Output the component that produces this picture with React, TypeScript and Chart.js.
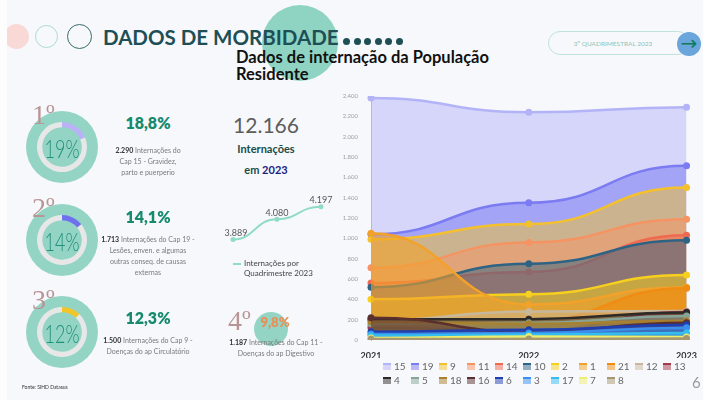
import React, { useEffect, useRef } from "react";
import { Chart, registerables } from "chart.js";
Chart.register(...registerables);

// ---------- DATA ----------
const years = ["2021", "2022", "2023"];
const capLabels = ["15", "19", "9", "11", "14", "10", "2", "1", "21", "12", "13", "4", "5", "18", "16", "6", "3", "17", "7", "8"];
const cap15 = [2380, 2240, 2290];
const cap19 = [1040, 1350, 1713];
const cap9 = [990, 1140, 1500];
const cap11 = [710, 960, 1187];
const cap14 = [560, 670, 1030];
const cap10 = [520, 750, 980];
const cap2 = [400, 450, 640];
const cap1 = [1050, 350, 520];
const cap21 = [140, 190, 510];
const cap12 = [190, 280, 285];
const cap13 = [120, 90, 275];
const cap4 = [205, 205, 270];
const cap5 = [160, 170, 235];
const cap18 = [180, 160, 190];
const cap16 = [220, 80, 170];
const cap6 = [80, 100, 150];
const cap3 = [60, 70, 120];
const cap17 = [45, 55, 70];
const cap7 = [20, 35, 30];
const cap8 = [10, 10, 15];
const seriesValues = [cap15, cap19, cap9, cap11, cap14, cap10, cap2, cap1, cap21, cap12, cap13, cap4, cap5, cap18, cap16, cap6, cap3, cap17, cap7, cap8];
const lineColors = ["#b3b3f7", "#7b7bf2", "#f4c12c", "#f59462", "#f06a50", "#2f6384", "#f7cf1e", "#f2a22a", "#f08c12", "#c9b79c", "#a33a4a", "#2e2a28", "#86a597", "#a8802e", "#5a302e", "#1f3fb0", "#3a8eee", "#33bdf0", "#eeee6e", "#a8976e"];
const fillAlphas = [0.5, 0.55, 0.5, 0.5, 0.5, 0.5, 0.55, 0.6, 0.65, 0.5, 0.5, 0.5, 0.5, 0.5, 0.5, 0.55, 0.55, 0.55, 0.5, 0.5];
const yMax = 2400;
const yStep = 200;

const quadLabels = ["1º Quad", "2º Quad", "3º Quad"];
const quadValues = [3889, 4080, 4197];

const donutPercents = [18.8, 14.1, 12.3];
const donutTexts = ["19%", "14%", "12%"];
const donutColors = ["#b9b2f7", "#6f6ff0", "#f0c62a"];
const rankLabels = ["1º", "2º", "3º", "4º"];

// ---------- helpers ----------
const fmt = (n: number) => String(n).replace(/\B(?=(\d{3})+(?!\d))/g, ".");
const rgba = (hex: string, a: number) => {
  const h = hex.replace("#", "");
  const r = parseInt(h.slice(0, 2), 16), g = parseInt(h.slice(2, 4), 16), b = parseInt(h.slice(4, 6), 16);
  return `rgba(${r},${g},${b},${a})`;
};

// Horizontal-tangent ("bump") smoothing of the line segments
const bumpPlugin = {
  id: "bump",
  beforeDatasetsDraw(chart: any) {
    chart.getSortedVisibleDatasetMetas().forEach((meta: any) => {
      if (meta.type !== "line") return;
      const pts = meta.data;
      for (let i = 0; i < pts.length; i++) {
        const p = pts[i], prev = pts[i - 1], next = pts[i + 1];
        const dp = prev ? (p.x - prev.x) / 2 : 0;
        const dn = next ? (next.x - p.x) / 2 : 0;
        p.cp1x = p.x - dp; p.cp1y = p.y;
        p.cp2x = p.x + dn; p.cp2y = p.y;
      }
      if (meta.dataset) { meta.dataset._pointsUpdated = true; meta.dataset._path = undefined; }
    });
  },
};

const FONT = "Lato, 'Open Sans', sans-serif";

function MainChart() {
  const ref = useRef<HTMLCanvasElement>(null);
  useEffect(() => {
    const chart = new Chart(ref.current!, {
      type: "line",
      data: {
        labels: years,
        datasets: seriesValues.map((v, i) => ({
          label: capLabels[i],
          data: v,
          borderColor: lineColors[i],
          backgroundColor: rgba(lineColors[i], fillAlphas[i]),
          fill: "origin",
          tension: 0.4,
          borderWidth: 2.5,
          pointRadius: 3.5,
          pointBackgroundColor: lineColors[i],
          pointBorderWidth: 0,
          order: -i,
        })),
      },
      options: {
        responsive: false,
        animation: false,
        events: [],
        layout: { padding: { top: 10, right: 12, left: 0, bottom: 0 } },
        plugins: { legend: { display: false }, tooltip: { enabled: false } },
        scales: {
          x: {
            offset: false,
            grid: { display: false },
            border: { display: false },
            ticks: { font: { family: FONT, size: 9, weight: "bold" }, color: "#333", padding: 3, maxRotation: 0 },
            afterFit: (s: any) => { s.height = 18; },
          },
          y: {
            min: 0,
            max: yMax,
            grid: { display: false },
            border: { display: true, color: "#b8b8b8" },
            ticks: { stepSize: yStep, font: { family: FONT, size: 6 }, color: "#a0a0a0", padding: 5, callback: (v: any) => fmt(Number(v)) },
            afterFit: (s: any) => { s.width = 36; },
          },
        },
      } as any,
      plugins: [bumpPlugin],
    });
    return () => chart.destroy();
  }, []);
  return <canvas ref={ref} width={365} height={272} style={{ position: "absolute", left: 335, top: 86, width: 365, height: 272 }} />;
}

function MiniChart() {
  const ref = useRef<HTMLCanvasElement>(null);
  useEffect(() => {
    const labelPlugin = {
      id: "vals",
      afterDatasetsDraw(chart: any) {
        const ctx = chart.ctx;
        const meta = chart.getDatasetMeta(0);
        ctx.save();
        ctx.font = `9px ${FONT}`;
        ctx.fillStyle = "#555";
        ctx.textAlign = "center";
        ctx.textBaseline = "bottom";
        meta.data.forEach((p: any, i: number) => {
          ctx.fillText(fmt(quadValues[i]), p.x + (i === 0 ? 3 : 0), p.y - 2);
        });
        ctx.restore();
      },
    };
    const chart = new Chart(ref.current!, {
      type: "line",
      data: {
        labels: quadLabels,
        datasets: [{
          data: quadValues,
          borderColor: "#8fdcc3",
          borderWidth: 2,
          pointRadius: 2.5,
          pointBackgroundColor: "#8fdcc3",
          pointBorderWidth: 0,
          tension: 0.4,
          fill: false,
        }],
      },
      options: {
        responsive: false,
        animation: false,
        events: [],
        layout: { padding: { left: 20, right: 22, top: 11, bottom: 6 } },
        plugins: { legend: { display: false }, tooltip: { enabled: false } },
        scales: {
          x: { display: false, offset: false },
          y: { display: false, min: 3800, max: 4250 },
        },
      } as any,
      plugins: [bumpPlugin, labelPlugin],
    });
    return () => chart.destroy();
  }, []);
  return <canvas ref={ref} width={130} height={65} style={{ position: "absolute", left: 213, top: 190, width: 130, height: 65 }} />;
}

function Donut({ idx, cy }: { idx: number; cy: number }) {
  const ref = useRef<HTMLCanvasElement>(null);
  useEffect(() => {
    const p = donutPercents[idx];
    const chart = new Chart(ref.current!, {
      type: "doughnut",
      data: { labels: ["a", "b"], datasets: [{ data: [p, 100 - p], backgroundColor: [donutColors[idx], "#e7e7e7"], borderWidth: 0 }] },
      options: {
        responsive: false,
        animation: false,
        events: [],
        cutout: "79%",
        plugins: { legend: { display: false }, tooltip: { enabled: false } },
      } as any,
    });
    return () => chart.destroy();
  }, [idx]);
  const cx = 62;
  return (
    <>
      <div style={{ position: "absolute", left: cx - 36, top: cy - 36, width: 72, height: 72, borderRadius: "50%", background: "#93d4c4" }} />
      <canvas ref={ref} width={50} height={50} style={{ position: "absolute", left: cx - 25, top: cy - 25, width: 50, height: 50 }} />
      <div style={{ position: "absolute", left: cx, top: cy + 1, transform: "translate(-50%,-50%) scaleX(0.72)", fontFamily: FONT, fontWeight: 300, fontSize: 25, color: "#23907a", whiteSpace: "nowrap", lineHeight: 1 }}>{donutTexts[idx]}</div>
      <div style={{ position: "absolute", left: 32, top: cy - 46, fontFamily: "'Liberation Serif', 'DejaVu Serif', serif", fontSize: 28, color: "#b89595", lineHeight: 1 }}>{rankLabels[idx]}</div>
    </>
  );
}

const C = ({ x, y, size, weight = 400, color = "#777", children, family = FONT }: any) => (
  <div style={{ position: "absolute", left: x, top: y, transform: "translate(-50%,-50%)", fontFamily: family, fontSize: size, fontWeight: weight, color, whiteSpace: "nowrap", lineHeight: 1, textAlign: "center" }}>{children}</div>
);

function Desc({ x, top, lines }: { x: number; top: number; lines: React.ReactNode[] }) {
  return (
    <div style={{ position: "absolute", left: x - 80, top, width: 160, textAlign: "center", fontFamily: FONT, fontSize: 7, color: "#7a7a7a", lineHeight: "11px" }}>
      {lines.map((l, i) => <div key={i}>{l}</div>)}
    </div>
  );
}

const B = ({ children }: any) => <b style={{ color: "#333", fontWeight: 700 }}>{children}</b>;

export default function App() {
  const dots = [0, 1, 2, 3, 4, 5];
  return (
    <div style={{ position: "fixed", left: 0, top: 0, width: 703, height: 400, background: "#f7f8fc", overflow: "hidden", fontFamily: FONT }}>
      {/* header decorations */}
      <div style={{ position: "absolute", left: 4, top: 24, width: 25, height: 25, borderRadius: "50%", background: "#f9d9d6" }} />
      <div style={{ position: "absolute", left: 0, top: 0, width: 7, height: 400, background: "#fdfdfe" }} />
      <div style={{ position: "absolute", left: 35, top: 24.5, width: 21, height: 21, borderRadius: "50%", border: "1px solid #a9dccf" }} />
      <div style={{ position: "absolute", left: 67, top: 23.5, width: 23, height: 23, borderRadius: "50%", border: "1.3px solid #3b6b6c" }} />
      <div style={{ position: "absolute", left: 262, top: 5, width: 76, height: 76, borderRadius: "50%", background: "#8fd4c3" }} />
      <div style={{ position: "absolute", left: 103, top: 27, fontFamily: FONT, fontWeight: 700, fontSize: 20.5, color: "#1d4f55", whiteSpace: "nowrap", lineHeight: 1 }}>DADOS DE MORBIDADE</div>
      {dots.map((d) => (
        <div key={d} style={{ position: "absolute", left: 343 + d * 10.5, top: 37.5, width: 7, height: 7, borderRadius: "50%", background: "#1d4f55" }} />
      ))}
      <div style={{ position: "absolute", left: 236, top: 49, fontFamily: FONT, fontWeight: 700, fontSize: 16.5, color: "#111", lineHeight: "16.5px", whiteSpace: "nowrap" }}>
        Dados de internação da População<br />Residente
      </div>
      {/* pill */}
      <div style={{ position: "absolute", left: 548, top: 31, width: 140, height: 22, borderRadius: 12, border: "1px solid #bfe3da" }} />
      <div style={{ position: "absolute", left: 613, top: 43, transform: "translate(-50%,-50%)", fontSize: 6.5, color: "#8cc5b5", whiteSpace: "nowrap", fontFamily: FONT }}>3º QUADRIMESTRAL 2023</div>
      <div style={{ position: "absolute", left: 677, top: 32, width: 24, height: 24, borderRadius: "50%", background: "#6aa5db" }} />
      <div style={{ position: "absolute", left: 689, top: 43, transform: "translate(-50%,-50%)", fontSize: 20, color: "#0e7a5a", lineHeight: 1, fontFamily: "'DejaVu Sans', sans-serif" }}>→</div>

      {/* donuts */}
      <Donut idx={0} cy={147} />
      <Donut idx={1} cy={240} />
      <Donut idx={2} cy={332} />

      <C x={148} y={123} size={16} weight={800} color="#178a6e">18,8%</C>
      <Desc x={148} top={145} lines={[<><B>2.290</B> Internações do</>, "Cap 15 - Gravidez,", "parto e puerperio"]} />
      <C x={148} y={217} size={16} weight={800} color="#178a6e">14,1%</C>
      <Desc x={148} top={234} lines={[<><B>1.713</B> Internações do Cap 19 -</>, "Lesões, enven. e algumas", "outras conseq. de causas", "externas"]} />
      <C x={148} y={318} size={16} weight={800} color="#178a6e">12,3%</C>
      <Desc x={148} top={335} lines={[<><B>1.500</B> Internações do Cap 9 -</>, "Doenças do ap Circulatório"]} />

      <C x={266} y={124} size={21} weight={400} color="#5d5d5d">12.166</C>
      <C x={266} y={148} size={11} weight={700} color="#1b4d47">Internações</C>
      <C x={266} y={169} size={11} weight={700} color="#1b4d47"><span>em </span><span style={{ color: "#1a237e" }}>2023</span></C>

      <MiniChart />
      <div style={{ position: "absolute", left: 233, top: 263, width: 8, height: 2, background: "#8fdcc3" }} />
      <div style={{ position: "absolute", left: 244, top: 258, fontSize: 8, lineHeight: "10px", color: "#444", fontFamily: FONT, whiteSpace: "nowrap" }}>Internações por<br />Quadrimestre 2023</div>

      {/* 4th */}
      <div style={{ position: "absolute", left: 254, top: 312, width: 34, height: 34, borderRadius: "50%", background: "#93d4c4" }} />
      <div style={{ position: "absolute", left: 228, top: 307, fontFamily: "'Liberation Serif', 'DejaVu Serif', serif", fontSize: 28, color: "#b89595", lineHeight: 1 }}>{rankLabels[3]}</div>
      <C x={275} y={322} size={13} weight={800} color="#e98f56">9,8%</C>
      <Desc x={276} top={337} lines={[<><B>1.187</B> Internações do Cap 11 -</>, "Doenças do ap Digestivo"]} />

      <div style={{ position: "absolute", left: 22, top: 384, fontSize: 5, color: "#333", fontFamily: FONT, whiteSpace: "nowrap" }}>Fonte: SIHD Datasus</div>

      {/* main chart */}
      <MainChart />
      <div style={{ position: "absolute", left: 383, top: 361, width: 320, display: "flex", flexWrap: "wrap", rowGap: 4 }}>
        {capLabels.map((l, i) => (
          <div key={l} style={{ width: i === 10 ? 40 : 28, height: 10, display: "flex", alignItems: "center", flexBasis: i === 10 ? 40 : 28 }}>
            <div style={{ width: 8, height: 5, background: rgba(lineColors[i], 0.5), borderTop: `2px solid ${lineColors[i]}` }} />
            <span style={{ marginLeft: 3, fontSize: 10, color: "#666", fontFamily: FONT, lineHeight: 1 }}>{l}</span>
          </div>
        ))}
      </div>
      <div style={{ position: "absolute", left: 692, top: 375, fontSize: 15, color: "#9a9a9a", fontFamily: FONT, lineHeight: 1 }}>6</div>
    </div>
  );
}
